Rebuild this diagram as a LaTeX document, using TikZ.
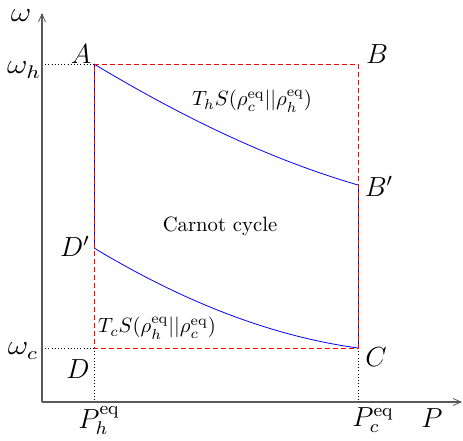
\documentclass[tikz,border=0pt]{standalone}
\usetikzlibrary{arrows.meta}
\begin{document}
\begin{tikzpicture}[x=1pt,y=1pt,
  axis/.style={draw=black!65,line width=1.1pt,-{Straight Barb[length=8pt,width=7pt,line width=0.8pt]}},
  box/.style={draw=red,dashed,line width=0.8pt,dash pattern=on 5pt off 3pt},
  curve/.style={draw=blue,line width=0.8pt},
  guide/.style={draw=black,line width=0.8pt,dash pattern=on 0.8pt off 2.4pt},
  big/.style={font=\large,inner sep=0pt,scale=2.3,transform shape},
  wide/.style={big,xscale=1.15},
  small/.style={font=\normalsize,inner sep=0pt,scale=2.07,transform shape}]
\useasboundingbox (0,0) rectangle (463,441);
% points
\coordinate (O) at (42,39);
\coordinate (Ytop) at (42,428);
\coordinate (Xend) at (462,39);
\coordinate (A) at (94,377);
\coordinate (B) at (358,377);
\coordinate (C) at (358,93);
\coordinate (D) at (94,93);
\coordinate (Bp) at (358,256);
\coordinate (Dp) at (94,193);
\coordinate (Yh) at (42,377);
\coordinate (Yc) at (42,93);
\coordinate (Xh) at (94,39);
\coordinate (Xc) at (358,39);
% guides
\draw[guide] (Yh) -- (A);
\draw[guide] (Yc) -- (D);
\draw[guide] (D) -- (Xh);
\draw[guide] (C) -- (Xc);
% axes
\draw[axis] (O) -- (Ytop);
\draw[axis] (O) -- (Xend);
% cycle
\draw[curve] (A) -- (Dp);
\draw[curve] (Bp) -- (C);
\draw[curve] (A) .. controls (182,324) and (270,281.5) .. (Bp);
\draw[curve] (Dp) .. controls (182,140) and (270,105) .. (C);
\draw[box] (A) -- (B) -- (C) -- (D) -- cycle;
% labels
\node[wide] (lw) at (21,425) {$\omega$};
\node[wide] (lwh) at (24,371) {$\omega_h$};
\node[wide] (lwc) at (23,90) {$\omega_c$};
\node[big] (lA) at (81,387) {$A$};
\node[big] (lB) at (377,387) {$B$};
\node[big] (lBp) at (379,255) {$B'$};
\node[big] (lC) at (376,84) {$C$};
\node[big] (lD) at (78,72) {$D$};
\node[big] (lDp) at (75,195) {$D'$};
\node[big] (lPh) at (99,20) {$P_h^{\mathrm{eq}}$};
\node[big] (lPc) at (373,21) {$P_c^{\mathrm{eq}}$};
\node[big] (lP) at (432,23) {$P$};
\node[small] (lTh) at (252,340) {$T_hS(\rho_c^{\mathrm{eq}}||\rho_h^{\mathrm{eq}})$};
\node[small] (lcc) at (220,215) {Carnot cycle};
\node[small] (lTc) at (157,113) {$T_cS(\rho_h^{\mathrm{eq}}||\rho_c^{\mathrm{eq}})$};
\end{tikzpicture}
\end{document}
